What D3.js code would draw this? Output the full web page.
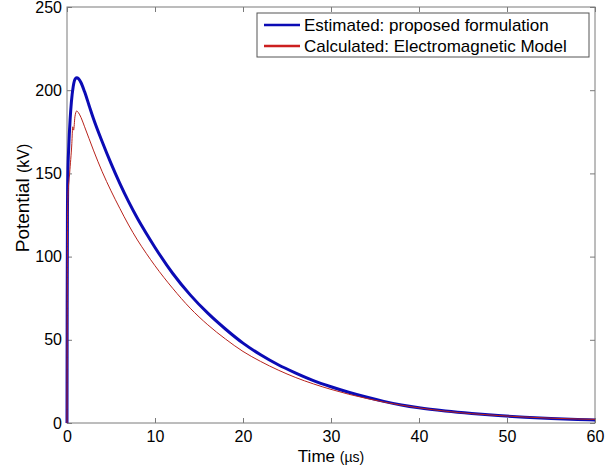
<!DOCTYPE html>
<html>
<head>
<meta charset="utf-8">
<script src="https://cdn.jsdelivr.net/npm/d3@7"></script>
<style>
  body { margin: 0; background: #fff; }
  text { font-family: "Liberation Sans", Arial, sans-serif; fill: #000; }
</style>
</head>
<body>
<script>
// time axis samples (µs) and potentials (kV)
var estTime = [0, 0.02, 0.05, 0.1, 0.2, 0.35, 0.5, 0.7, 0.9, 1.1, 1.3, 1.6, 2, 2.5, 3, 4, 5, 6, 7, 8, 9, 10,
               12, 14, 16, 18, 20, 22, 24, 26, 28, 30, 32, 34, 36, 38, 40, 43, 46, 49, 52, 55, 58, 60];
var estValues = [0, 70, 125, 150, 166, 182, 193, 202, 206.5, 207.5, 207, 204.5, 199, 191, 183, 169, 156, 144, 133, 123, 114, 105.5,
                 90, 77, 66, 56.5, 48, 41, 35, 30, 25.5, 21.8, 18.5, 15.6, 13.0, 10.8, 9.1, 7.2, 5.7, 4.5, 3.5, 2.7, 2.1, 1.8];

var calcTime = [0, 0.02, 0.05, 0.1, 0.3, 0.55, 0.65, 0.75, 0.9, 1.1, 1.3, 1.6, 2, 2.5, 3, 4, 5, 6, 7, 8, 9, 10,
                12, 14, 16, 18, 20, 22, 24, 26, 28, 30, 32, 34, 36, 38, 40, 43, 46, 49, 52, 55, 58, 60];
var calcValues = [0, 60, 110, 135, 150, 168, 178, 176, 184, 187.5, 186.5, 183.5, 178, 171, 164, 151, 139.5, 129, 119, 110, 102, 94.5,
                  81, 69, 59, 50.5, 43, 37, 31.8, 27.3, 23.5, 20.2, 17.3, 14.8, 12.6, 10.7, 9.1, 7.1, 5.6, 4.5, 3.6, 2.9, 2.4, 2.2];

var xTicks = [0, 10, 20, 30, 40, 50, 60];
var yTicks = [0, 50, 100, 150, 200, 250];
var legendLabels = ["Estimated: proposed formulation", "Calculated: Electromagnetic Model"];

var svg = d3.select("body").append("svg")
      .attr("width", 616)
      .attr("height", 468),
    margin = {top: 7, right: 21, bottom: 45, left: 67},
    width = +svg.attr("width") - margin.left - margin.right,
    height = +svg.attr("height") - margin.top - margin.bottom,
    g = svg.append("g").attr("transform", "translate(" + margin.left + "," + margin.top + ")");

var x = d3.scaleLinear().domain([0, 60]).range([0, width]);
var y = d3.scaleLinear().domain([0, 250]).range([height, 0]);

var axisColor = "#7a7a7a";

// frame
g.append("rect")
    .attr("width", width)
    .attr("height", height)
    .attr("fill", "none")
    .attr("stroke", axisColor)
    .attr("stroke-width", 1);

function styleAxis(sel) {
  sel.select(".domain").remove();
  sel.selectAll(".tick line").attr("stroke", axisColor);
  sel.selectAll(".tick text").attr("font-size", 16).attr("fill", "#000");
}

g.append("g")
    .attr("transform", "translate(0," + height + ")")
    .call(d3.axisBottom(x).tickValues(xTicks).tickSizeInner(-5).tickSizeOuter(0).tickPadding(8))
    .call(styleAxis);

g.append("g")
    .call(d3.axisLeft(y).tickValues(yTicks).tickSizeInner(-5).tickSizeOuter(0).tickPadding(5))
    .call(styleAxis);

// mirrored ticks on top and right
g.append("g")
    .call(d3.axisTop(x).tickValues(xTicks).tickSizeInner(-5).tickSizeOuter(0).tickFormat(""))
    .call(styleAxis);
g.append("g")
    .attr("transform", "translate(" + width + ",0)")
    .call(d3.axisRight(y).tickValues(yTicks).tickSizeInner(-5).tickSizeOuter(0).tickFormat(""))
    .call(styleAxis);

var line = d3.line()
    .x(function(d) { return x(d[0]); })
    .y(function(d) { return y(d[1]); })
    .curve(d3.curveMonotoneX);

var estData = estTime.map(function(t, i) { return [t, estValues[i]]; });
var calcData = calcTime.map(function(t, i) { return [t, calcValues[i]]; });

g.append("path")
    .datum(estData)
    .attr("fill", "none")
    .attr("stroke", "#0b0bb5")
    .attr("stroke-width", 3)
    .attr("stroke-linejoin", "round")
    .attr("d", line);

g.append("path")
    .datum(calcData)
    .attr("fill", "none")
    .attr("stroke", "#b8231c")
    .attr("stroke-width", 1)
    .attr("stroke-linejoin", "round")
    .attr("d", line);

// axis titles
var xt = svg.append("text")
    .attr("x", margin.left + width / 2)
    .attr("y", 462)
    .attr("text-anchor", "middle")
    .attr("font-size", 17);
xt.append("tspan").text("Time ");
xt.append("tspan").attr("font-size", 14).text("(µs)");

var yt = svg.append("text")
    .attr("transform", "translate(29,198) rotate(-90)")
    .attr("text-anchor", "middle")
    .attr("font-size", 19);
yt.append("tspan").text("Potential ");
yt.append("tspan").attr("font-size", 16).text("(kV)");

// legend
var legend = svg.append("g").attr("transform", "translate(257,13)");
legend.append("rect")
    .attr("width", 332)
    .attr("height", 44)
    .attr("fill", "#fff")
    .attr("stroke", "#555")
    .attr("stroke-width", 1);

var legendColors = ["#0b0bb5", "#cc1f1f"];
legendLabels.forEach(function(label, i) {
  var ly = 12 + i * 21;
  legend.append("line")
      .attr("x1", 7).attr("x2", 43)
      .attr("y1", ly).attr("y2", ly)
      .attr("stroke", legendColors[i])
      .attr("stroke-width", 2.5);
  legend.append("text")
      .attr("x", 47)
      .attr("y", ly + 6)
      .attr("font-size", 17)
      .text(label);
});
</script>
</body>
</html>
